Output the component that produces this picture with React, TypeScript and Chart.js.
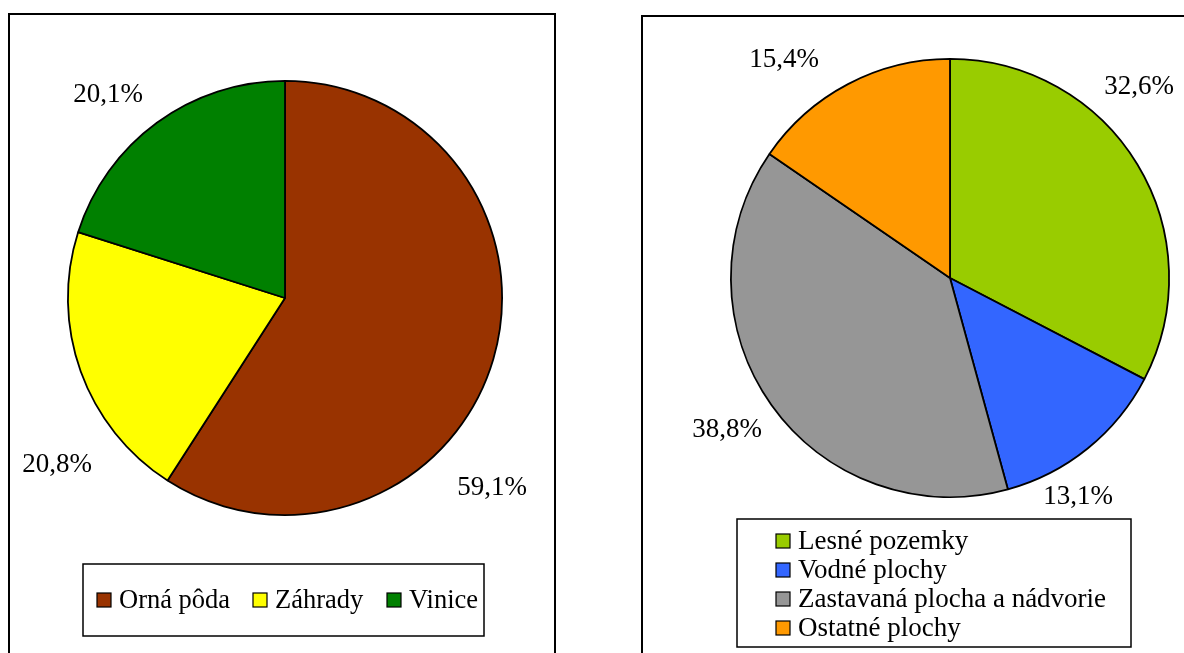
import React, { useEffect, useRef } from "react";
import { Chart, registerables } from "chart.js";

Chart.register(...registerables);

// ---- data ----
const LEFT_LABELS = ["Orná pôda", "Záhrady", "Vinice"];
const LEFT_VALUES = [59.1, 20.8, 20.1];
const LEFT_COLORS = ["#993300", "#FFFF00", "#008000"];

const RIGHT_LABELS = ["Lesné pozemky", "Vodné plochy", "Zastavaná plocha a nádvorie", "Ostatné plochy"];
const RIGHT_VALUES = [32.6, 13.1, 38.8, 15.4];
const RIGHT_COLORS = ["#99CC00", "#3366FF", "#969696", "#FF9900"];

// ---- styling / layout (not data) ----
const FONT = '"Liberation Serif", "Times New Roman", serif';
const W = 592;
const H = 653;

const fmt = (v: number) => v.toFixed(1).replace(".", ",") + "%";

const decorPlugin = {
  id: "decor",
  beforeDraw(chart: any, _args: any, opts: any) {
    const ctx = chart.ctx;
    ctx.save();
    ctx.fillStyle = "#ffffff";
    ctx.fillRect(0, 0, chart.width, chart.height);
    const f = opts.frame;
    ctx.strokeStyle = "#000";
    ctx.lineWidth = 2;
    ctx.strokeRect(f.x, f.y, f.w, f.h);
    ctx.restore();
  },
  afterDraw(chart: any, _args: any, opts: any) {
    const ctx = chart.ctx;
    const meta = chart.getDatasetMeta(0);
    const ds = chart.data.datasets[0];
    const arc0 = meta.data[0];
    const cx = arc0.x;
    const cy = arc0.y;
    ctx.save();
    ctx.fillStyle = "#000";
    ctx.font = `${opts.fontSize}px ${FONT}`;
    ctx.textAlign = "center";
    ctx.textBaseline = "middle";
    ds.data.forEach((v: number, i: number) => {
      const o = opts.labelOffsets[i];
      ctx.fillText(fmt(v), cx + o[0], cy + o[1]);
    });
    // legend
    const lg = opts.legend;
    ctx.strokeStyle = "#000";
    ctx.lineWidth = 1.5;
    ctx.fillStyle = "#fff";
    ctx.fillRect(lg.box.x, lg.box.y, lg.box.w, lg.box.h);
    ctx.strokeRect(lg.box.x, lg.box.y, lg.box.w, lg.box.h);
    ctx.textAlign = "left";
    ctx.font = `${opts.legendFontSize}px ${FONT}`;
    chart.data.labels.forEach((lab: string, i: number) => {
      const it = lg.items[i];
      const s = lg.square;
      ctx.fillStyle = ds.backgroundColor[i];
      ctx.fillRect(it[0], it[1] - s / 2, s, s);
      ctx.lineWidth = 1.2;
      ctx.strokeStyle = "#000";
      ctx.strokeRect(it[0], it[1] - s / 2, s, s);
      ctx.fillStyle = "#000";
      ctx.fillText(lab, it[0] + s + 8, it[1] + 1);
    });
    ctx.restore();
  },
};

function PieChart(props: {
  labels: string[];
  values: number[];
  colors: string[];
  padding: { left: number; right: number; top: number; bottom: number };
  decor: any;
  left: number;
}) {
  const ref = useRef<HTMLCanvasElement | null>(null);
  useEffect(() => {
    if (!ref.current) return;
    const chart = new Chart(ref.current, {
      type: "pie",
      data: {
        labels: props.labels,
        datasets: [
          {
            data: props.values,
            backgroundColor: props.colors,
            borderColor: "#000",
            borderWidth: 1.8,
          },
        ],
      },
      options: {
        responsive: false,
        maintainAspectRatio: false,
        animation: false,
        devicePixelRatio: 1,
        layout: { padding: props.padding },
        plugins: {
          legend: { display: false },
          tooltip: { enabled: false },
          decor: props.decor,
        } as any,
      },
      plugins: [decorPlugin],
    });
    return () => chart.destroy();
  }, []);
  return (
    <canvas
      ref={ref}
      width={W}
      height={H}
      style={{ position: "absolute", left: props.left, top: 0, width: W, height: H }}
    />
  );
}

export default function App() {
  return (
    <div style={{ position: "fixed", left: 0, top: 0, width: 1184, height: 653, background: "#fff", overflow: "hidden" }}>
      <PieChart
        labels={LEFT_LABELS}
        values={LEFT_VALUES}
        colors={LEFT_COLORS}
        left={0}
        padding={{ left: 67, right: 89, top: 80, bottom: 137 }}
        decor={{
          frame: { x: 9, y: 14, w: 546, h: 700 },
          fontSize: 27,
          legendFontSize: 26.5,
          labelOffsets: [
            [207, 190],
            [-228, 167],
            [-177, -203],
          ],
          legend: {
            box: { x: 83, y: 564, w: 401, h: 72 },
            square: 14,
            items: [
              [97, 600],
              [253, 600],
              [387, 600],
            ],
          },
        }}
      />
      <PieChart
        labels={RIGHT_LABELS}
        values={RIGHT_VALUES}
        colors={RIGHT_COLORS}
        left={592}
        padding={{ left: 138, right: 14, top: 58, bottom: 155 }}
        decor={{
          frame: { x: 50, y: 16, w: 700, h: 700 },
          fontSize: 27,
          legendFontSize: 27,
          labelOffsets: [
            [189, -191],
            [128, 219],
            [-223, 152],
            [-166, -218],
          ],
          legend: {
            box: { x: 145, y: 519, w: 394, h: 128 },
            square: 14,
            items: [
              [184, 541],
              [184, 570],
              [184, 599],
              [184, 628],
            ],
          },
        }}
      />
    </div>
  );
}
